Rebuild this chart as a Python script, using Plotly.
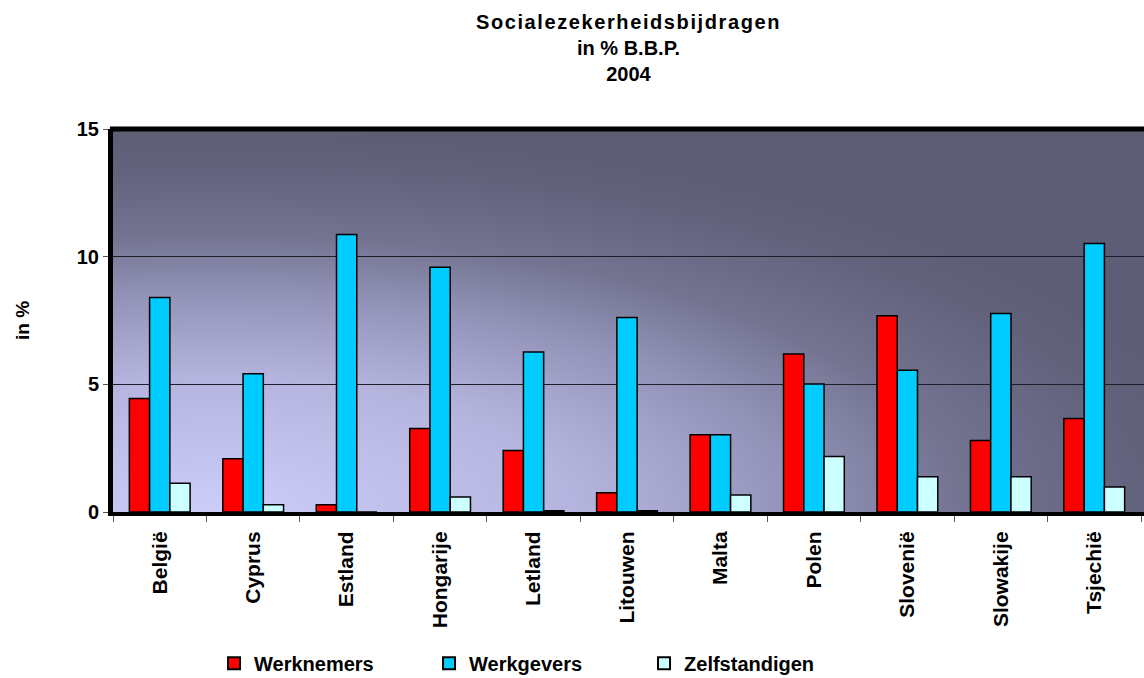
import base64
import plotly.graph_objects as go

# Country categories (x axis)
countries = ["België", "Cyprus", "Estland", "Hongarije", "Letland", "Litouwen",
             "Malta", "Polen", "Slovenië", "Slowakije", "Tsjechië"]

# Social security contributions, % of GDP, 2004
werknemers = [4.45, 2.09, 0.28, 3.27, 2.41, 0.75, 3.03, 6.19, 7.69, 2.80, 3.66]
werkgevers = [8.40, 5.41, 10.87, 9.59, 6.27, 7.62, 3.03, 5.01, 5.55, 7.77, 10.52]
zelfstandigen = [1.13, 0.28, 0.0, 0.59, 0.05, 0.05, 0.67, 2.17, 1.38, 1.38, 0.98]

series_names = ["Werknemers", "Werkgevers", "Zelfstandigen"]
series_colors = ["#ff0000", "#00ccff", "#ccffff"]

y_ticks = [0, 5, 10, 15]

FONT = "Liberation Sans, Arial, sans-serif"

# Radial gradient used as the plot-area background
stops = [(0.0, "#cdcdfa"), (0.35, "#b4b4de"), (0.56, "#9494ba"),
         (0.72, "#747492"), (0.9, "#62627c"), (1.0, "#5d5d75")]
stop_xml = "".join(f'<stop offset="{o}" stop-color="{c}"/>' for o, c in stops)
svg = ('<svg xmlns="http://www.w3.org/2000/svg" width="1031" height="383" '
       'viewBox="0 0 1031 383" preserveAspectRatio="none"><defs>'
       '<radialGradient id="g" cx="0.1" cy="1" r="1" fx="0.1" fy="1">'
       f'{stop_xml}</radialGradient></defs>'
       '<rect x="0" y="0" width="1031" height="383" fill="url(#g)"/></svg>')
bg_src = "data:image/svg+xml;base64," + base64.b64encode(svg.encode()).decode()

fig = go.Figure()
for name, vals, col in zip(series_names, [werknemers, werkgevers, zelfstandigen], series_colors):
    fig.add_trace(go.Bar(
        x=countries, y=vals, name=name,
        marker=dict(color=col, line=dict(color="#000000", width=1.5)),
    ))

fig.update_layout(
    width=1144, height=678,
    margin=dict(l=113, r=0, t=129, b=166, autoexpand=False),
    paper_bgcolor="white",
    plot_bgcolor="rgba(0,0,0,0)",
    barmode="group", bargap=0.35, bargroupgap=0,
    font=dict(family=FONT, color="black"),
    title=dict(
        text='<span style="letter-spacing:1.6px">Socialezekerheidsbijdragen</span>'
             '<br>in % B.B.P.<br>2004',
        x=0.5, xref="paper", xanchor="center",
        yref="container", y=1 - 29 / 678, yanchor="middle",
        font=dict(family=FONT, size=20, weight="bold", color="black"),
    ),
    images=[dict(source=bg_src, xref="paper", yref="paper", x=0, y=1,
                 sizex=1, sizey=1, xanchor="left", yanchor="top",
                 sizing="stretch", layer="below")],
    legend=dict(
        orientation="h", x=0.098, y=-0.395, xanchor="left", yanchor="middle",
        font=dict(family=FONT, size=20, weight="bold", color="black"),
        entrywidth=170, itemsizing="constant", bgcolor="rgba(0,0,0,0)",
    ),
    shapes=[dict(type="line", xref="paper", yref="paper", x0=-0.003, x1=1.01,
                 y0=1, y1=1, line=dict(color="black", width=5))],
)

fig.update_xaxes(
    range=[-0.5, 10.532], automargin=False,
    showline=True, linecolor="black", linewidth=4,
    ticks="outside", tickson="boundaries", ticklen=6, tickcolor="#555555", tickwidth=1,
    tickangle=-90, ticklabelstandoff=7,
    tickfont=dict(family=FONT, size=21, weight="bold", color="black"),
    showgrid=False, zeroline=False,
)
fig.update_yaxes(
    range=[0, 15], tickvals=y_ticks, ticktext=[str(v) for v in y_ticks],
    automargin=False,
    showline=True, linecolor="black", linewidth=5,
    ticks="outside", ticklen=5, tickcolor="#555555", tickwidth=1,
    tickfont=dict(family=FONT, size=20, weight="bold", color="black"),
    showgrid=True, gridcolor="#1e1e2a", gridwidth=1, zeroline=False,
    title=dict(text="in %", standoff=44,
               font=dict(family=FONT, size=19, weight="bold", color="black")),
)

fig.write_html("out.html")
